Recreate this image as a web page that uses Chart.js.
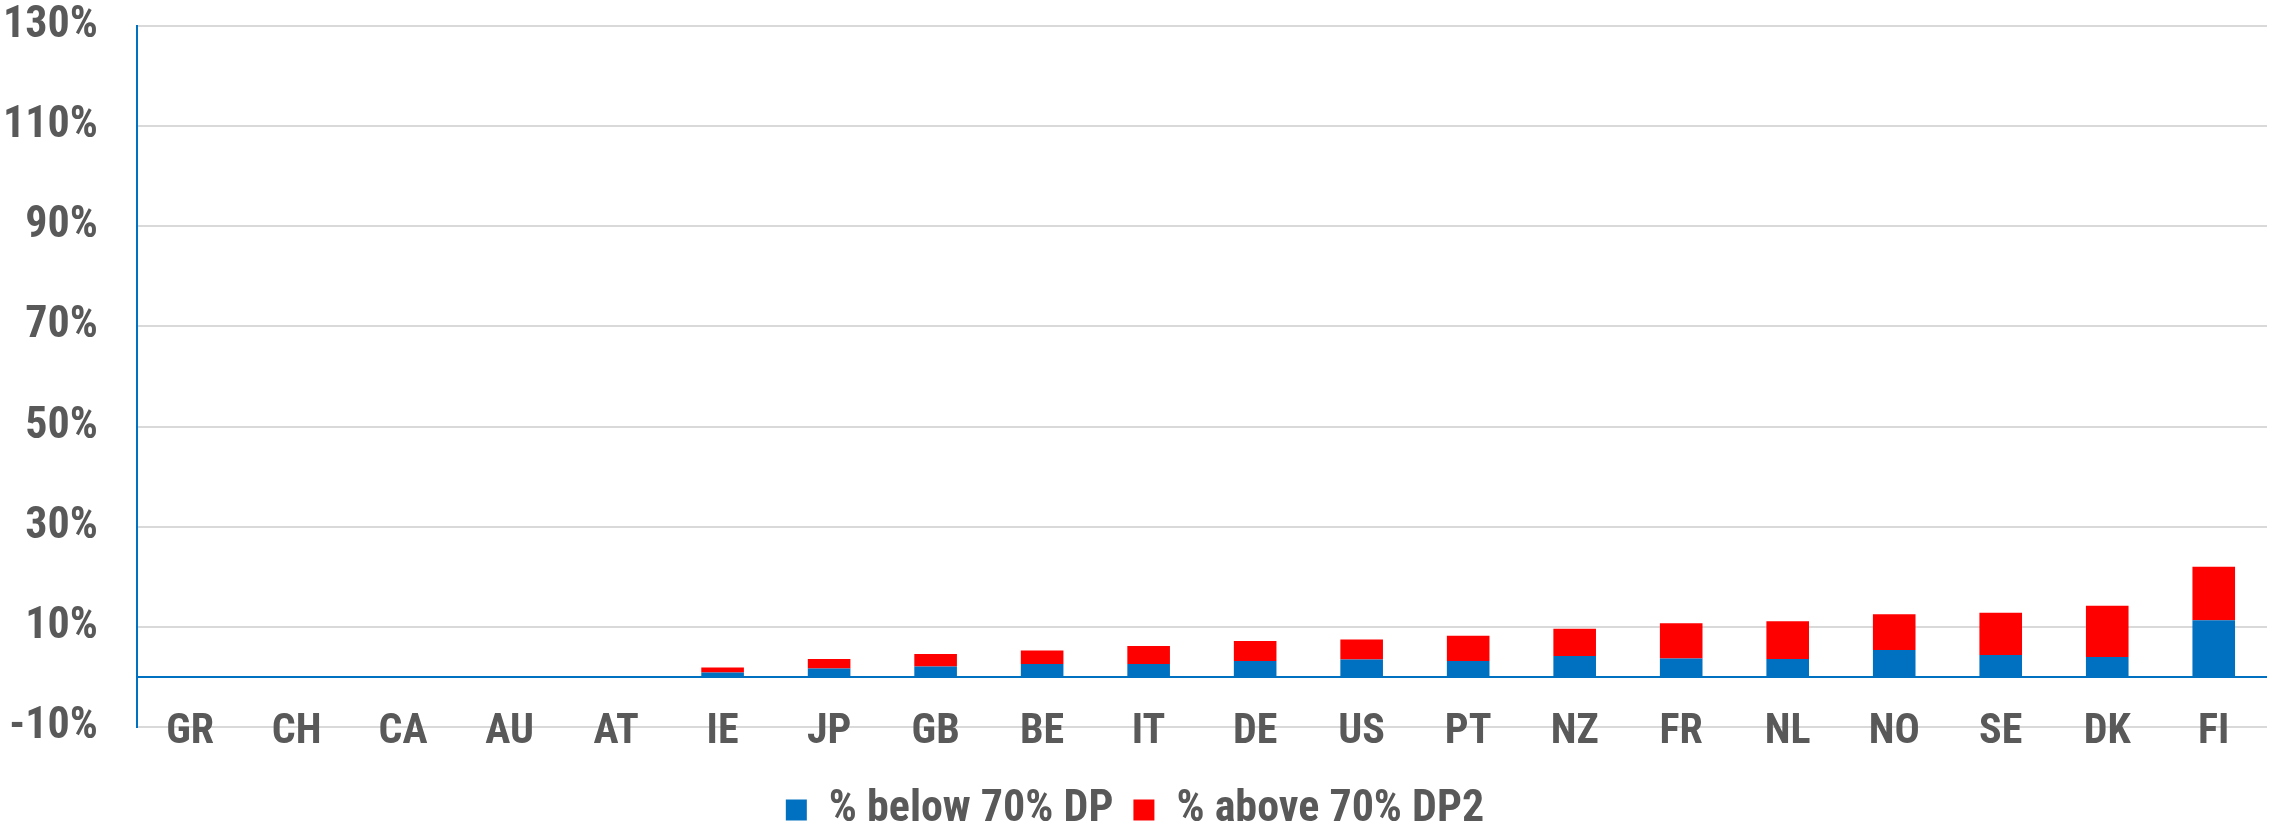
<!DOCTYPE html>
<html>
<head>
<meta charset="utf-8">
<script src="https://cdn.jsdelivr.net/npm/chart.js@4"></script>
<style>
  html, body { margin: 0; padding: 0; background: #fff; }
  #wrap { width: 2277px; height: 821px; }
</style>
</head>
<body>
<div id="wrap"><canvas id="chartDP"></canvas></div>
<script>
  // countries, sorted by total share
  const countries = ["GR", "CH", "CA", "AU", "AT", "IE", "JP", "GB", "BE", "IT", "DE", "US", "PT", "NZ", "FR", "NL", "NO", "SE", "DK", "FI"];
  const belowDP = [0, 0, 0, 0, 0, 0.9, 1.7, 2.1, 2.6, 2.6, 3.2, 3.5, 3.2, 4.2, 3.7, 3.6, 5.4, 4.4, 4.0, 11.3];
  const aboveDP2 = [0, 0, 0, 0, 0, 1.0, 1.9, 2.5, 2.7, 3.6, 4.0, 4.0, 5.0, 5.4, 7.0, 7.5, 7.1, 8.4, 10.2, 10.7];
  const yMin = -10, yMax = 130, yStep = 20;

  const fontFam = "'Roboto Condensed', 'Arial Narrow', 'Liberation Sans Narrow', sans-serif";
  const grey = "#595959";

  document.addEventListener("DOMContentLoaded", function () {
    const ctx = document.getElementById("chartDP").getContext("2d");
    new Chart(ctx, {
      type: "bar",
      data: {
        labels: countries,
        datasets: [{
          label: "% below 70% DP",
          data: belowDP,
          backgroundColor: "#0070C0",
          borderWidth: 0,
        }, {
          label: "% above 70% DP2",
          data: aboveDP2,
          backgroundColor: "#FF0000",
          borderWidth: 0,
        }],
      },
      options: {
        responsive: true,
        maintainAspectRatio: false,
        animation: false,
        layout: { padding: { left: 3, right: 10, top: 26, bottom: -21 } },
        datasets: { bar: { categoryPercentage: 0.8, barPercentage: 0.5 } },
        plugins: {
          legend: {
            position: "bottom",
            labels: {
              boxWidth: 21,
              boxHeight: 21,
              padding: 20,
              color: grey,
              font: { family: fontFam, size: 44, weight: "bold" },
            },
          },
          tooltip: { enabled: false },
        },
        scales: {
          x: {
            stacked: true,
            grid: { display: false, drawTicks: false },
            border: { display: false },
            ticks: {
              color: grey,
              padding: -20,
              maxRotation: 0,
              font: { family: fontFam, size: 42, weight: "bold" },
            },
            afterFit: function (scale) {
              // labels sit over the bottom gridline, as in the original
              scale.height = 41;
              scale._computeLabelArea = () => undefined;
            },
          },
          y: {
            stacked: true,
            min: yMin,
            max: yMax,
            afterBuildTicks: function (scale) {
              // zero line drawn as an extra, unlabelled tick
              scale.ticks.push({ value: 0 });
              scale.ticks.sort((a, b) => a.value - b.value);
            },
            afterFit: function (scale) {
              scale.width -= scale.options.ticks.padding;
              scale.paddingTop = 0;
              scale.paddingBottom = 0;
            },
            grid: {
              drawTicks: false,
              lineWidth: 2,
              color: (c) => (c.tick && c.tick.value === 0 ? "#0070C0" : "#D9D9D9"),
            },
            border: { color: "#0070C0", width: 2 },
            ticks: {
              stepSize: yStep,
              padding: 39,
              color: grey,
              font: { family: fontFam, size: 44, weight: "bold" },
              callback: (v) => (v === 0 ? "" : v + "%"),
            },
          },
        },
      },
    });
  });
</script>
</body>
</html>
